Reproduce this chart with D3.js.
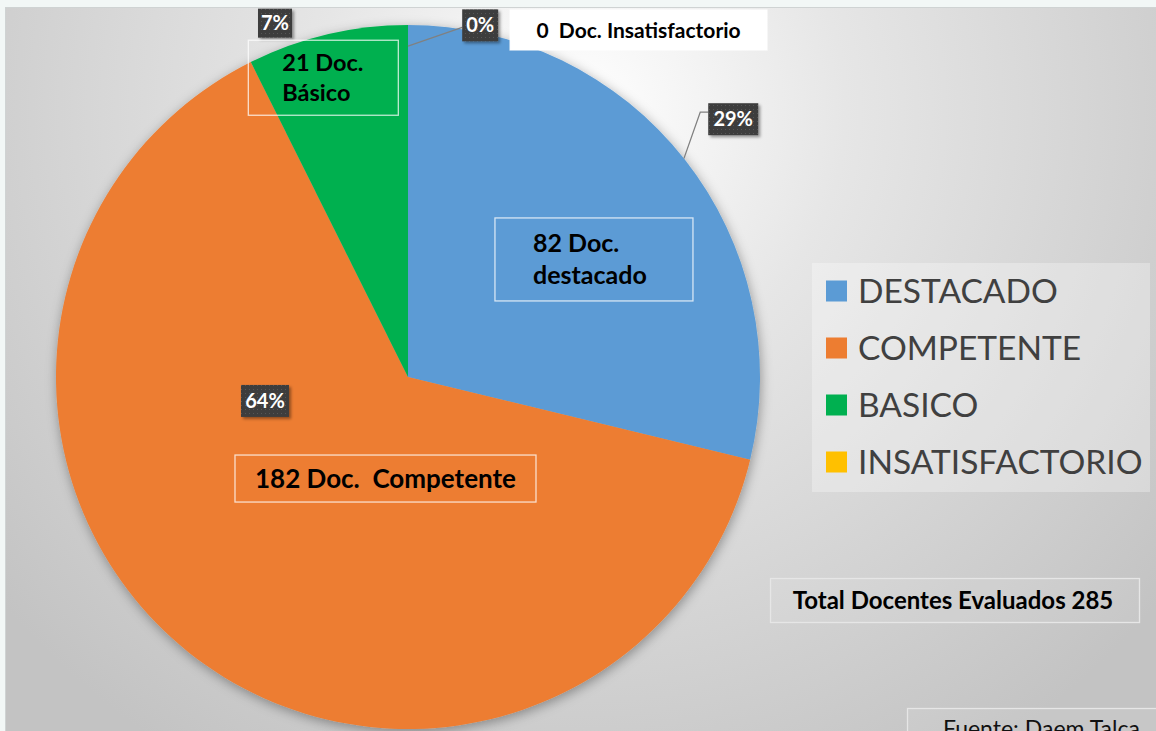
<!DOCTYPE html>
<html>
<head>
<meta charset="utf-8">
<script src="https://d3js.org/d3.v7.min.js"></script>
<style>
  body { margin: 0; background: #f2f7f6; }
  svg { display: block; }
  text { font-family: Lato, "Open Sans", sans-serif; white-space: pre; }
</style>
</head>
<body>
<svg width="1156" height="731"></svg>
<script>
// data
const categories = ["DESTACADO", "COMPETENTE", "BASICO", "INSATISFACTORIO"];
const counts = [82, 182, 21, 0];
const colors = ["#5B9BD5", "#ED7D31", "#00B050", "#FFC000"];
const countLabels = [["82 Doc.", "destacado"], ["182 Doc.  Competente"], ["21 Doc.", "Básico"], ["0  Doc. Insatisfactorio"]];
const totalLabel = "Total Docentes Evaluados 285";
const sourceLabel = "Fuente: Daem Talca";

// layout
const W = 1156, H = 731;
const cx = 408, cy = 377, R = 352;
// label placement in polar terms (degrees clockwise from north, distance from centre)
const pctPlace = [{a: 51.6, r: 415}, {a: 260.5, r: 145}, {a: 339.4, r: 378}, {a: 11.6, r: 359}];
const boxPlace = [
  {a: 57.7, r: 220, w: 198, h: 83, pad: 38, fs: 25, lh: 32},
  {a: 192.5, r: 104, w: 301, h: 47, fs: 26},
  {a: 344.2, r: 311, w: 150, h: 75, pad: 34, fs: 23.5, lh: 30},
  {a: 33.6, r: 416.6, w: 257, h: 40, fill: "#ffffff", fs: 21}
];

const polar = (a, r) => [cx + r * Math.sin(a * Math.PI / 180), cy - r * Math.cos(a * Math.PI / 180)];

const svg = d3.select("svg");
const defs = svg.append("defs");

const bg = defs.append("radialGradient").attr("id", "bg")
  .attr("gradientUnits", "userSpaceOnUse")
  .attr("cx", 580).attr("cy", 110).attr("r", 760);
bg.append("stop").attr("offset", "0%").attr("stop-color", "#ffffff");
bg.append("stop").attr("offset", "35%").attr("stop-color", "#e6e6e6");
bg.append("stop").attr("offset", "100%").attr("stop-color", "#c3c3c3");

const shadow = defs.append("filter").attr("id", "shadow")
  .attr("x", "-20%").attr("y", "-20%").attr("width", "140%").attr("height", "140%");
shadow.append("feDropShadow").attr("dx", 1).attr("dy", 3).attr("stdDeviation", 6)
  .attr("flood-color", "#000").attr("flood-opacity", 0.35);

const small = defs.append("filter").attr("id", "small")
  .attr("x", "-20%").attr("y", "-20%").attr("width", "150%").attr("height", "160%");
small.append("feDropShadow").attr("dx", 2).attr("dy", 2).attr("stdDeviation", 1.5)
  .attr("flood-color", "#000").attr("flood-opacity", 0.4);

const dots = defs.append("pattern").attr("id", "dots")
  .attr("width", 4).attr("height", 4).attr("patternUnits", "userSpaceOnUse");
dots.append("rect").attr("width", 4).attr("height", 4).attr("fill", "#3d3d3d");
dots.append("rect").attr("x", 1).attr("y", 1).attr("width", 1).attr("height", 1).attr("fill", "#575757");

// chart area
svg.append("rect").attr("x", 5.5).attr("y", 7.5).attr("width", W).attr("height", H)
  .attr("fill", "url(#bg)").attr("stroke", "#cfd3d3");

// pie
const pie = d3.pie().sort(null).value(d => d);
const arcs = pie(counts);
const arc = d3.arc().innerRadius(0).outerRadius(R);

const g = svg.append("g").attr("transform", `translate(${cx},${cy})`);
g.append("g").attr("filter", "url(#shadow)")
  .selectAll("path").data(arcs).join("path")
  .attr("d", arc)
  .attr("fill", (d, i) => colors[i]);

// leader lines
const total = d3.sum(counts);
const pctText = counts.map(v => Math.round(v / total * 100) + "%");
const pctSize = [{w: 50, h: 32}, {w: 48, h: 32}, {w: 34, h: 29}, {w: 36, h: 32}];

const leaders = [
  {i: 0, r: R},
  {i: 3, r: R * 0.94}
];
leaders.forEach(l => {
  const d = arcs[l.i];
  const mid = l.i === 3 ? d.endAngle : (d.startAngle + d.endAngle) / 2 - 0.003;
  const [ex, ey] = polar(mid * 180 / Math.PI, l.r);
  const [bx, by] = polar(pctPlace[l.i].a, pctPlace[l.i].r);
  const left = bx - pctSize[l.i].w / 2;
  const pts = l.i === 0 ? [[left, by - 7], [left - 8, by - 7], [ex, ey]] : [[left, by + 2], [ex, ey]];
  svg.append("path").attr("d", d3.line()(pts))
    .attr("fill", "none").attr("stroke", "#808080").attr("stroke-width", 1.2);
});

// percentage labels
categories.forEach((c, i) => {
  const [x, y] = polar(pctPlace[i].a, pctPlace[i].r);
  const s = pctSize[i];
  svg.append("rect").attr("x", x - s.w / 2).attr("y", y - s.h / 2)
    .attr("width", s.w).attr("height", s.h)
    .attr("fill", "url(#dots)").attr("filter", "url(#small)");
  svg.append("text").attr("x", x).attr("y", y + 7)
    .attr("text-anchor", "middle").attr("fill", "#fff")
    .attr("font-weight", 700).attr("font-size", 20)
    .text(pctText[i]);
});

// count boxes
categories.forEach((c, i) => {
  const b = boxPlace[i];
  const [x, y] = polar(b.a, b.r);
  svg.append("rect").attr("x", x - b.w / 2).attr("y", y - b.h / 2)
    .attr("width", b.w).attr("height", b.h)
    .attr("fill", b.fill || "none").attr("stroke", "rgba(255,255,255,0.75)").attr("stroke-width", 1.3);
  const lines = countLabels[i];
  lines.forEach((t, k) => {
    svg.append("text")
      .attr("x", b.pad ? x - b.w / 2 + b.pad : x)
      .attr("y", y + (k - (lines.length - 1) / 2) * (b.lh || 0) + b.fs * 0.36)
      .attr("text-anchor", b.pad ? "start" : "middle")
      .attr("font-weight", 700).attr("font-size", b.fs).attr("fill", "#000")
      .text(t);
  });
});

// legend
const ly = d3.scalePoint().domain(categories).range([291, 462]);
const legend = svg.append("g");
legend.append("rect").attr("x", 812).attr("y", 263).attr("width", 338).attr("height", 229)
  .attr("fill", "#ffffff").attr("fill-opacity", 0.3);
categories.forEach((c, i) => {
  legend.append("rect").attr("x", 826).attr("y", ly(c) - 10.5).attr("width", 21).attr("height", 21)
    .attr("fill", colors[i]);
  legend.append("text").attr("x", 858).attr("y", ly(c) + 12)
    .attr("font-size", 33.5).attr("fill", "#404040").text(c);
});

// total and source
svg.append("rect").attr("x", 770.5).attr("y", 578.5).attr("width", 369).attr("height", 44)
  .attr("fill", "#ffffff").attr("fill-opacity", 0.08).attr("stroke", "#e6e6e6").attr("stroke-width", 1.3);
svg.append("text").attr("x", 953).attr("y", 608.5).attr("text-anchor", "middle")
  .attr("font-weight", 700).attr("font-size", 24).attr("fill", "#000").text(totalLabel);

svg.append("rect").attr("x", 907.5).attr("y", 708.5).attr("width", 260).attr("height", 40)
  .attr("fill", "#ffffff").attr("fill-opacity", 0.08).attr("stroke", "#e6e6e6").attr("stroke-width", 1.3);
svg.append("text").attr("x", 943).attr("y", 737)
  .attr("font-size", 23).attr("fill", "#111").text(sourceLabel);
</script>
</body>
</html>
